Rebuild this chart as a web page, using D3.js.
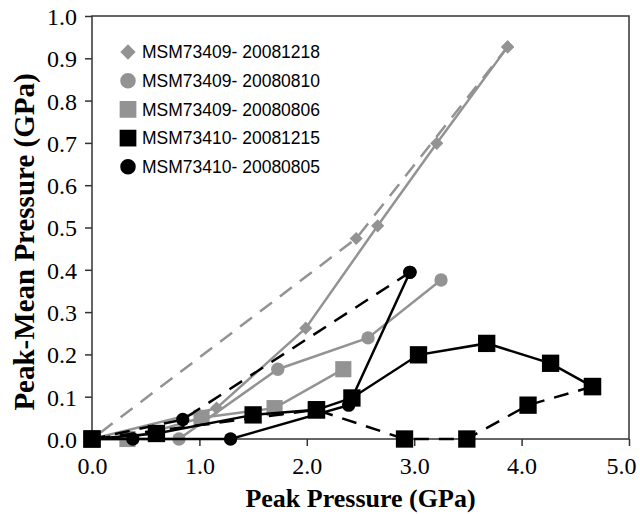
<!DOCTYPE html>
<meta charset="utf-8">
<script src="https://d3js.org/d3.v7.min.js"></script>
<style>
body { margin: 0; background: #fff; }
.tick text { font-family: "Liberation Serif", "Times New Roman", serif; font-size: 24px; fill: #000; }
.title { font-family: "Liberation Serif", "Times New Roman", serif; font-weight: bold; fill: #000; }
.legend text { font-family: "Liberation Sans", Arial, sans-serif; font-size: 17.5px; fill: #000; }
</style>
<div id="chart"></div>
<script>

// series names (legend order)
var seriesNames = ["MSM73409- 20081218", "MSM73409- 20080810", "MSM73409- 20080806",
                   "MSM73410- 20081215", "MSM73410- 20080805"];

// loading (solid) and unloading (dashed) paths, [peak, peak-mean] in GPa
var diamondLoad   = [[0, 0], [1.16, 0.073], [1.99, 0.262], [2.66, 0.504], [3.21, 0.699], [3.87, 0.927]];
var diamondUnload = [[3.87, 0.927], [2.46, 0.474], [0, 0]];
var grayCircleLoad   = [[0, 0], [0.81, 0], [1.73, 0.165], [2.57, 0.239], [3.25, 0.376]];
var graySquareLoad   = [[0, 0], [0.33, 0], [1.02, 0.05], [1.70, 0.073], [2.34, 0.165]];
var blackSquareLoad   = [[0, 0], [0.60, 0.013], [1.50, 0.057], [2.09, 0.069], [2.42, 0.097],
                         [3.04, 0.199], [3.675, 0.226], [4.27, 0.179], [4.66, 0.124]];
var blackSquareUnload = [[4.66, 0.124], [4.06, 0.08], [3.49, 0], [2.91, 0], [2.09, 0.069], [0, 0]];
var blackCircleLoad   = [[0, 0], [0.38, 0], [1.29, 0], [2.39, 0.08], [2.96, 0.394]];
var blackCircleUnload = [[2.96, 0.394], [0.845, 0.046], [0, 0]];

var xTicks = [0, 1, 2, 3, 4, 5];
var yTicks = [0, 0.1, 0.2, 0.3, 0.4, 0.5, 0.6, 0.7, 0.8, 0.9, 1.0];

var gray = "#939393", black = "#000";

var width = 640, height = 514;
var margin = {top: 16, right: 11, bottom: 75, left: 92};

var svg = d3.select("#chart").append("svg")
    .attr("width", width)
    .attr("height", height);

var x = d3.scaleLinear().domain([0, 5]).range([margin.left, width - margin.right]);
var y = d3.scaleLinear().domain([0, 1]).range([height - margin.bottom, margin.top]);

// axes
var xAxis = svg.append("g")
    .attr("transform", "translate(0," + y(0) + ")")
    .call(d3.axisBottom(x).tickValues(xTicks).tickFormat(d3.format(".1f")).tickSize(7).tickPadding(8));
var yAxis = svg.append("g")
    .attr("transform", "translate(" + x(0) + ",0)")
    .call(d3.axisLeft(y).tickValues(yTicks).tickFormat(d3.format(".1f")).tickSize(7).tickPadding(8));
svg.selectAll(".domain").remove();
svg.selectAll(".tick line").attr("stroke", "#333").attr("stroke-width", 1.5);
xAxis.selectAll(".tick text").attr("dy", "0.85em");
// last label pulled in so it stays on the page
xAxis.selectAll(".tick text").filter(function(d) { return d === 5; }).attr("x", -8);
yAxis.selectAll(".tick text").attr("dy", "0.35em");

// frame
svg.append("rect")
    .attr("x", x(0)).attr("y", y(1))
    .attr("width", x(5) - x(0)).attr("height", y(0) - y(1))
    .attr("fill", "none").attr("stroke", "#333").attr("stroke-width", 1.5);

var line = d3.line().x(function(d) { return x(d[0]); }).y(function(d) { return y(d[1]); });

function drawLine(data, color, dashed) {
  svg.append("path")
    .datum(data)
    .attr("d", line)
    .attr("fill", "none")
    .attr("stroke", color)
    .attr("stroke-width", 2.5)
    .attr("stroke-dasharray", dashed ? "15,10" : null);
}

var symbols = {
  diamond: d3.symbol().type(d3.symbolDiamond2).size(110),
  circle: d3.symbol().type(d3.symbolCircle).size(140),
  square: d3.symbol().type(d3.symbolSquare).size(260),
  bigsquare: d3.symbol().type(d3.symbolSquare).size(300)
};

function drawMarks(data, shape, color) {
  svg.append("g").selectAll("path")
    .data(data)
    .enter().append("path")
    .attr("transform", function(d) { return "translate(" + x(d[0]) + "," + y(d[1]) + ")"; })
    .attr("d", symbols[shape])
    .attr("fill", color);
}

// gray series
drawLine(diamondUnload, gray, true);
drawLine(diamondLoad, gray, false);
drawLine(grayCircleLoad, gray, false);
drawLine(graySquareLoad, gray, false);
drawMarks(diamondLoad.concat(diamondUnload), "diamond", gray);
drawMarks(grayCircleLoad, "circle", gray);
drawMarks(graySquareLoad, "square", gray);

// black series
drawLine(blackCircleUnload, black, true);
drawLine(blackSquareUnload, black, true);
drawLine(blackCircleLoad, black, false);
drawLine(blackSquareLoad, black, false);
drawMarks(blackCircleLoad.concat(blackCircleUnload), "circle", black);
drawMarks(blackSquareLoad.concat(blackSquareUnload), "bigsquare", black);

// legend
var legendShapes = ["diamond", "circle", "square", "bigsquare", "circle"];
var legendColors = [gray, gray, gray, black, black];
var legendSyms = {
  diamond: d3.symbol().type(d3.symbolDiamond2).size(150),
  circle: d3.symbol().type(d3.symbolCircle).size(190),
  square: d3.symbol().type(d3.symbolSquare).size(280),
  bigsquare: d3.symbol().type(d3.symbolSquare).size(280)
};
var legend = svg.append("g").attr("class", "legend");
var item = legend.selectAll("g")
    .data(seriesNames)
    .enter().append("g")
    .attr("transform", function(d, i) { return "translate(128," + (52 + i * 28.7) + ")"; });
item.append("path")
    .attr("d", function(d, i) { return legendSyms[legendShapes[i]](); })
    .attr("fill", function(d, i) { return legendColors[i]; });
item.append("text")
    .attr("x", 14)
    .attr("dy", "0.35em")
    .text(function(d) { return d; });

// axis titles
svg.append("text")
    .attr("class", "title")
    .attr("x", (x(0) + x(5)) / 2)
    .attr("y", 507)
    .attr("text-anchor", "middle")
    .style("font-size", "26px")
    .text("Peak Pressure (GPa)");

svg.append("text")
    .attr("class", "title")
    .attr("transform", "translate(34," + 242 + ")rotate(-90)")
    .attr("text-anchor", "middle")
    .style("font-size", "29px")
    .text("Peak-Mean Pressure (GPa)");

</script>
